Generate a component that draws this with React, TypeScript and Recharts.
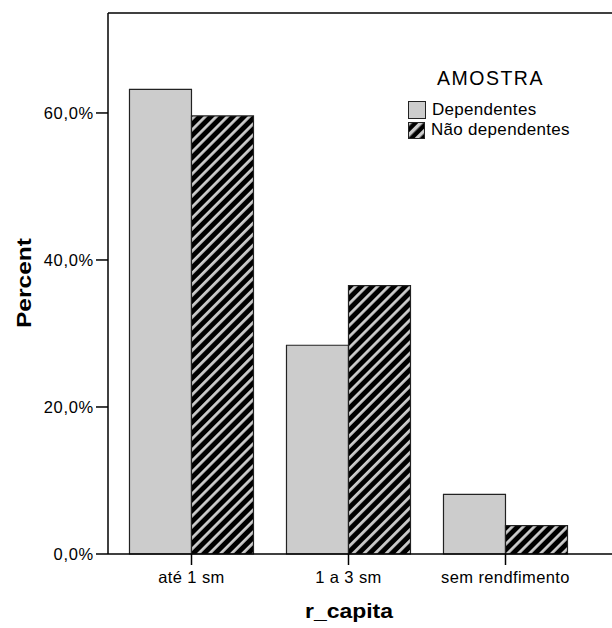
import React from 'react';
import {
  BarChart,
  Bar,
  XAxis,
  YAxis,
  ReferenceLine,
} from 'recharts';

// categorias e percentuais
const categories = ['até 1 sm', '1 a 3 sm', 'sem rendfimento'];
const dependentes = [63.2, 28.4, 8.1];
const naoDependentes = [59.6, 36.5, 3.85];
const yTicks = [0, 20, 40, 60];
const yMax = 73.6;

const data = categories.map((c, i) => ({
  cat: c,
  dep: dependentes[i],
  nao: naoDependentes[i],
}));

const FONT = '"Liberation Sans", Arial, sans-serif';
const GRAY = '#cccccc';

const fmtPct = (v: number) => `${v.toFixed(1).replace('.', ',')}%`;

function HatchSwatch() {
  return (
    <svg width={17} height={17} style={{ display: 'block' }}>
      <defs>
        <pattern id="hatchLegend" patternUnits="userSpaceOnUse" width={8} height={8} patternTransform="rotate(45)">
          <rect width={8} height={8} fill="#000" />
          <rect width={3.5} height={8} fill={GRAY} />
        </pattern>
      </defs>
      <rect x={0.5} y={0.5} width={16} height={16} fill="url(#hatchLegend)" stroke="#222" />
    </svg>
  );
}

function LegendBox() {
  const row: React.CSSProperties = { display: 'flex', alignItems: 'center', height: 20 };
  const item: React.CSSProperties = { fontSize: 17, marginLeft: 6, letterSpacing: 0.3 };
  return (
    <div style={{ fontFamily: FONT, color: '#000' }}>
      <div style={{ fontSize: 19.5, marginLeft: 29, marginBottom: 12, lineHeight: '20px', letterSpacing: 1.5 }}>
        AMOSTRA
      </div>
      <div style={row}>
        <div style={{ width: 16, height: 16, background: GRAY, border: '1px solid #222', boxSizing: 'content-box' }} />
        <span style={item}>Dependentes</span>
      </div>
      <div style={row}>
        <HatchSwatch />
        <span style={item}>Não dependentes</span>
      </div>
    </div>
  );
}

export default function App() {
  return (
    <div style={{ position: 'absolute', left: 0, top: 0, width: 612, height: 628, background: '#fff' }}>
      <BarChart
        width={612}
        height={628}
        data={data}
        margin={{ top: 13, right: 0, bottom: 0, left: 0 }}
        barCategoryGap="10.5%"
        barGap={0}
        style={{ fontFamily: FONT }}
      >
        <defs>
          <pattern id="hatch" patternUnits="userSpaceOnUse" width={7.8} height={7.8} patternTransform="rotate(45)">
            <rect width={7.8} height={7.8} fill="#000" />
            <rect width={2.8} height={7.8} fill={GRAY} />
          </pattern>
        </defs>
        <XAxis
          dataKey="cat"
          height={74}
          padding={{ left: 5, right: 28 }}
          tickSize={11}
          tickMargin={6}
          tick={{ fill: '#000', fontSize: 16.5, letterSpacing: 0.4 }}
          axisLine={{ stroke: '#000', strokeWidth: 1.5 }}
          tickLine={{ stroke: '#000', strokeWidth: 1.5 }}
          interval={0}
          label={{
            content: () => (
              <text
                x={349}
                y={618}
                textAnchor="middle"
                fontSize={21}
                fontWeight="bold"
                fill="#000"
                fontFamily={FONT}
                textLength={88}
                lengthAdjust="spacingAndGlyphs"
              >
                r_capita
              </text>
            ),
          }}
        />
        <YAxis
          type="number"
          domain={[0, yMax]}
          ticks={yTicks}
          width={108}
          tickSize={12}
          tickMargin={2}
          tickFormatter={fmtPct}
          tick={{ fill: '#000', fontSize: 16.5, letterSpacing: 0.7 }}
          axisLine={{ stroke: '#000', strokeWidth: 1.5 }}
          tickLine={{ stroke: '#000', strokeWidth: 1.5 }}
          label={{
            content: () => (
              <text
                x={31}
                y={283}
                transform="rotate(-90 31 283)"
                textAnchor="middle"
                fontSize={21}
                fontWeight="bold"
                fill="#000"
                fontFamily={FONT}
                textLength={90}
                lengthAdjust="spacingAndGlyphs"
              >
                Percent
              </text>
            ),
          }}
        />
        <ReferenceLine y={yMax} stroke="#000" strokeWidth={1.5} ifOverflow="extendDomain" />
        <Bar dataKey="dep" name="Dependentes" fill={GRAY} stroke="#222" strokeWidth={1.2} isAnimationActive={false} />
        <Bar dataKey="nao" name="Não dependentes" fill="url(#hatch)" stroke="#222" strokeWidth={1.2} isAnimationActive={false} />
      </BarChart>
      <div style={{ position: 'absolute', left: 408, top: 68, width: 204 }}>
        <LegendBox />
      </div>
    </div>
  );
}
